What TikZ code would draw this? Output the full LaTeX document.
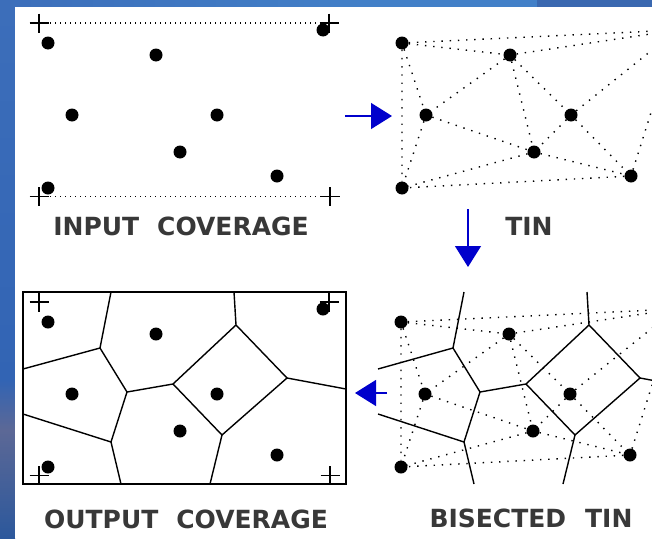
\documentclass[tikz,border=0pt]{standalone}
\usepackage{fontspec}
\newfontfamily\capfont{DejaVu Sans}
\usetikzlibrary{arrows.meta}

\definecolor{flowblue}{RGB}{0,0,204}
\definecolor{slateA}{RGB}{60,110,186}
\definecolor{slateB}{RGB}{66,128,200}
\definecolor{slateC}{RGB}{58,104,176}
\definecolor{slateD}{RGB}{50,100,180}
\definecolor{slateE}{RGB}{92,104,150}
\definecolor{slateF}{RGB}{44,88,156}

% the eight sample sites, in panel-local coordinates
\newcommand\placesites[1]{%
  \node[site] (#1A) at (48,43) {};
  \node[site] (#1B) at (156,55) {};
  \node[site] (#1C) at (72,115) {};
  \node[site] (#1D) at (217,115) {};
  \node[site] (#1E) at (180,152) {};
  \node[site] (#1F) at (277,176) {};
  \node[site] (#1G) at (48,188) {};
  \node[site] (#1H) at (323,30) {};
}

% Delaunay triangulation of the sites
\newcommand\drawtin[1]{%
  \draw[tinedge] (#1A) -- (#1B)  (#1A) -- (#1C)  (#1A) -- (#1G)  (#1A) -- (#1H)
                 (#1B) -- (#1C)  (#1B) -- (#1D)  (#1B) -- (#1E)  (#1B) -- (#1H)
                 (#1C) -- (#1E)  (#1C) -- (#1G)  (#1D) -- (#1E)  (#1D) -- (#1F)
                 (#1D) -- (#1H)  (#1E) -- (#1F)  (#1E) -- (#1G)  (#1F) -- (#1G)
                 (#1F) -- (#1H);
}

% perpendicular bisectors (Thiessen polygon boundaries); #2 = left end x
\newcommand\drawbisectors[2]{%
  \coordinate (#1v1) at (100,69);
  \coordinate (#1v2) at (127,113);
  \coordinate (#1v3) at (173,105);
  \coordinate (#1v4) at (236,46);
  \coordinate (#1v5) at (287,99);
  \coordinate (#1v6) at (222,156);
  \coordinate (#1v7) at (111,163);
  \coordinate (#1t1) at (111,13);
  \coordinate (#1t2) at (234,13);
  \coordinate (#1l1) at (#2,90);
  \coordinate (#1l2) at (#2,135);
  \coordinate (#1b1) at (121,205);
  \coordinate (#1b2) at (210,205);
  \coordinate (#1r1) at (346,110);
  \draw[bisector] (#1t1) -- (#1v1) -- (#1v2) -- (#1v7) -- (#1b1);
  \draw[bisector] (#1l1) -- (#1v1);
  \draw[bisector] (#1l2) -- (#1v7);
  \draw[bisector] (#1v2) -- (#1v3) -- (#1v4) -- (#1t2);
  \draw[bisector] (#1v3) -- (#1v6) -- (#1b2);
  \draw[bisector] (#1v4) -- (#1v5) -- (#1v6);
  \draw[bisector] (#1v5) -- (#1r1);
}

% corner registration tics
\newcommand\drawtics[1]{%
  \coordinate (#1tl) at (39,23);
  \coordinate (#1tr) at (329,23);
  \coordinate (#1bl) at (39,196.5);
  \coordinate (#1br) at (330,196.5);
  \foreach \c in {tl,tr,bl,br}
    \draw[tick] (#1\c) +(-9.5,0) -- +(9.5,0) (#1\c) +(0,-9.5) -- +(0,9.5);
}

\begin{document}
\begin{tikzpicture}[x=1pt,y=-1pt,
  site/.style={circle, fill=black, minimum size=13pt, inner sep=0pt},
  tinedge/.style={line width=1.4pt, dash pattern=on 1.4pt off 6.8pt},
  hulledge/.style={line width=1.2pt, dash pattern=on 1.2pt off 3.8pt},
  bisector/.style={line width=1.4pt},
  tick/.style={line width=1.4pt},
  flow/.style={draw=flowblue, line width=1.3pt,
    -{Triangle[length=21pt,width=26pt,fill=flowblue]}},
  caption/.style={font=\capfont\bfseries\fontsize{25}{25}\selectfont,
    text=black!78, inner sep=0pt}
]
\clip (0,0) rectangle (652,538);

% slide background
\fill[slateD] (0,0) rectangle (652,538);
\shade[left color=slateA, right color=slateB] (0,0) rectangle (370,7);
\fill[slateB] (370,0) rectangle (537,7);
\fill[slateC] (537,0) rectangle (652,7);
\shade[top color=slateA, bottom color=slateD] (0,7) rectangle (15,380);
\shade[top color=slateD, bottom color=slateE] (0,380) rectangle (15,430);
\shade[top color=slateE, bottom color=slateF] (0,430) rectangle (15,538);
\fill[white] (15,7) rectangle (652,538);

% input coverage
\begin{scope}
  \drawtics{p1}
  \draw[hulledge, shorten <=11pt, shorten >=9pt] (p1tl) -- (p1tr);
  \draw[hulledge, shorten <=11pt, shorten >=9pt] (p1bl) -- (p1br);
  \placesites{p1}
\end{scope}

% triangulated irregular network
\begin{scope}[shift={(354,0)}]
  \placesites{p2}
  \drawtin{p2}
\end{scope}

% bisected TIN
\begin{scope}[shift={(353,279)}]
  \placesites{p3}
  \drawtin{p3}
  \drawbisectors{p3}{25}
\end{scope}

% output coverage
\begin{scope}[shift={(0,279)}]
  \drawbisectors{p4}{23}
  \draw[line width=1.6pt] (23,13) rectangle (346,205);
  \drawtics{p4}
  \placesites{p4}
\end{scope}

% flow between the stages
\coordinate (f1s) at (345,116);
\coordinate (f1e) at (392,116);
\coordinate (f2s) at (468,209);
\coordinate (f2e) at (468,267);
\coordinate (f3s) at (387,393);
\coordinate (f3e) at (355,393);
\draw[flow] (f1s) -- (f1e);
\draw[flow] (f2s) -- (f2e);
\draw[flow] (f3s) -- (f3e);

% captions
\node[caption] (capin)  at (181,226) {INPUT\hspace{18pt}COVERAGE};
\node[caption] (captin) at (529,226) {TIN};
\node[caption] (capout) at (186,519) {OUTPUT\hspace{18pt}COVERAGE};
\node[caption] (capbis) at (531,518) {BISECTED\hspace{19pt}TIN};
\end{tikzpicture}
\end{document}
